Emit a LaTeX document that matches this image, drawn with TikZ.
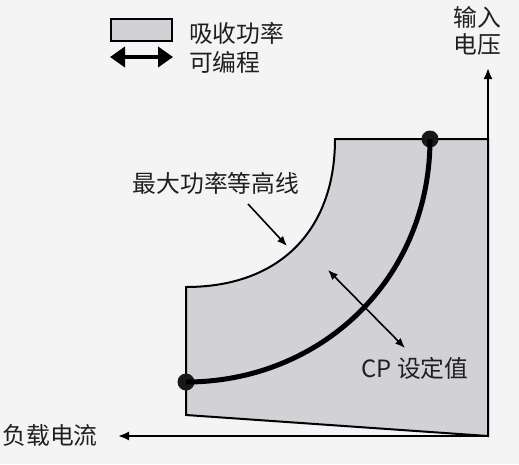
\documentclass[tikz,border=0pt]{standalone}
\usepackage{fontspec}
\setmainfont{Noto Sans CJK SC}
\usepackage{tikz}
\usetikzlibrary{arrows.meta, positioning}
\definecolor{bggray}{HTML}{F4F4F4}
\definecolor{areagray}{HTML}{D2D1D6}
\tikzset{
	labeltext/.style={
			inner sep=0pt,
			outer sep=0pt,
			text=black!88,
			font=\fontsize{23.8}{27}\selectfont
		},
	axisline/.style={
			line width=2pt,
			-{Latex[length=11pt,width=9pt]}
		},
	pointer/.style={
			line width=1.6pt,
			-{Latex[length=10pt,width=8pt]}
		},
	bothpointer/.style={
			line width=1.6pt,
			{Latex[length=10pt,width=8pt]}-{Latex[length=10pt,width=8pt]}
		},
	cpdot/.style={
			circle,
			fill=black!90,
			minimum size=17pt,
			inner sep=0pt
		}
}

\begin{document}
\begin{tikzpicture}[x=1pt, y=-1pt]
\useasboundingbox[fill=bggray] (0,0) rectangle (519,464);

% legend
\node (legbox) at (141.5,30) [rectangle, draw=black, line width=2pt, fill=areagray, minimum width=61pt, minimum height=22pt, inner sep=0pt] {};
\coordinate (legleft) at (110,57);
\coordinate (legright) at (173,57);
\draw[line width=4pt, {Triangle[length=15pt,width=20pt]}-{Triangle[length=15pt,width=20pt]}] (legleft) -- (legright);
\node (legtop) at (189,33) [labeltext, anchor=west] {吸收功率};
\node (legbot) at (189,62) [labeltext, anchor=west] {可编程};

% operating area
\draw[line width=2pt, fill=areagray] (335,139) -- (488,139) -- (488,436) -- (186,415) -- (186,287) .. controls (280,287) and (335,230) .. (335,139) -- cycle;

% axes
\coordinate (origin) at (488,436);
\coordinate (vtop) at (488,68);
\coordinate (hleft) at (118,436);
\draw[axisline] (origin) -- (vtop);
\draw[axisline] (origin) -- (hleft);
\node (vlabel) at (477,31) [labeltext, align=center] {输入\\电压};
\node (ilabel) at (50,435) [labeltext] {负载电流};

% cp curve
\node (cplow) at (186,382) [cpdot] {};
\node (cphigh) at (430,139) [cpdot] {};
\draw[line width=5pt] (cplow.center) .. controls (320,382) and (430,280) .. (cphigh.center);

% labels and pointers
\node (contourlabel) at (216,183) [labeltext] {最大功率等高线};
\coordinate (tagfoot) at (248,204);
\coordinate (tagtip) at (287,246);
\draw[pointer] (tagfoot) -- (tagtip);

\coordinate (cpup) at (328,270);
\coordinate (cpdown) at (405,348);
\draw[bothpointer] (cpup) -- (cpdown);
\node (cplabel) at (415,368) [labeltext] {CP 设定值};

\end{tikzpicture}
\end{document}
